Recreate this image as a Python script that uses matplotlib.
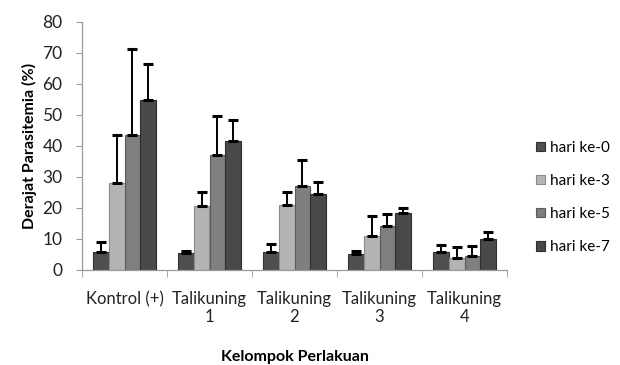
"""Bar chart of parasitemia level per treatment group"""
import numpy as np
import matplotlib.pyplot as plt

plt.rcParams['font.family'] = ['Lato', 'DejaVu Sans']

# Treatment groups and days
groups = ['Kontrol (+)', 'Talikuning\n1', 'Talikuning\n2', 'Talikuning\n3', 'Talikuning\n4']
days = ['hari ke-0', 'hari ke-3', 'hari ke-5', 'hari ke-7']

# Mean parasitemia (%) per day, one list per day across groups
day0 = [5.7, 5.5, 5.9, 5.2, 5.7]
day3 = [27.9, 20.6, 20.9, 10.9, 3.8]
day5 = [43.6, 37.0, 27.2, 14.1, 4.6]
day7 = [54.6, 41.5, 24.6, 18.5, 10.0]

# Standard deviation (upper error bar only)
sd0 = [3.2, 0.7, 2.5, 1.0, 2.4]
sd3 = [15.6, 4.4, 4.1, 6.4, 3.6]
sd5 = [27.7, 12.7, 8.1, 4.0, 3.1]
sd7 = [11.7, 6.8, 3.8, 1.6, 2.1]

means = [day0, day3, day5, day7]
sds = [sd0, sd3, sd5, sd7]
colors = ['#4f4f4f', '#b4b4b4', '#7f7f7f', '#494949']
edges = ['#333333', '#8a8a8a', '#5a5a5a', '#2e2e2e']

fig = plt.figure(figsize=(6.2, 3.65), dpi=100)
ax = fig.add_axes([82/620, 95/365, 425/620, 248.5/365])

x = np.arange(len(groups))
width = 0.185
for i in range(len(days)):
    pos = x + (i - 1.5) * width
    ax.bar(pos, means[i], width, color=colors[i], edgecolor=edges[i], linewidth=0.8,
           label=days[i], zorder=2)
    ax.errorbar(pos, means[i], yerr=[np.zeros(len(groups)), sds[i]], fmt='none',
                ecolor='black', elinewidth=1.4, capsize=3.5, capthick=2.2, zorder=3)

# Axes limits and ticks
ax.set_xlim(-0.5, len(groups) - 0.5)
ax.set_ylim(0, 80)
ax.set_yticks(range(0, 81, 10))
ax.set_xticks(x)
ax.set_xticklabels(groups, fontsize=12, color='#222222')
ax.set_xticks(np.arange(-0.5, len(groups)), minor=True)
ax.tick_params(axis='x', which='major', length=0, pad=15)
ax.tick_params(axis='x', which='minor', length=5, color='#9a9a9a', direction='out')
ax.tick_params(axis='y', length=4, color='#9a9a9a', labelsize=12.5, labelcolor='#222222', pad=10)

for side in ['top', 'right']:
    ax.spines[side].set_visible(False)
for side in ['left', 'bottom']:
    ax.spines[side].set_color('#9a9a9a')
    ax.spines[side].set_linewidth(0.9)

ax.set_ylabel('Derajat Parasitemia (%)', fontsize=11.5, fontweight='bold', labelpad=4)
ax.set_xlabel('Kelompok Perlakuan', fontsize=11.5, fontweight='bold', labelpad=18)

fig.legend(loc='upper left', bbox_to_anchor=(522/620, 1 - 127/365), frameon=False,
           fontsize=11, handlelength=0.6, handleheight=0.6, handletextpad=0.35,
           labelspacing=1.25)

fig.savefig('out.png', dpi=100)
